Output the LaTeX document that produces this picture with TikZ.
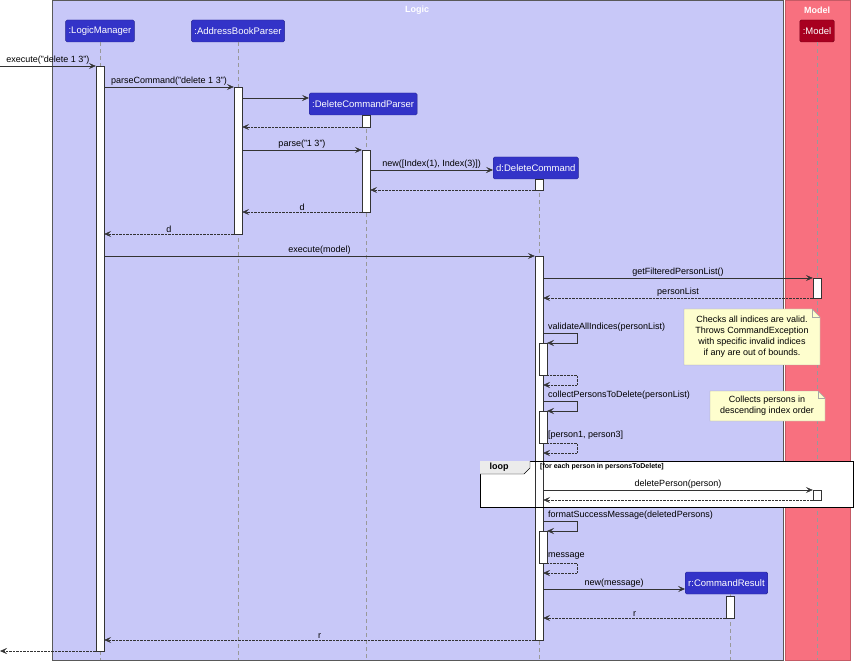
\documentclass[tikz,border=0pt]{standalone}
\usepackage{fontspec}
\setmainfont{Liberation Sans}
\usetikzlibrary{arrows.meta, positioning, calc}
\definecolor{logicbg}{HTML}{C8C8F8}
\definecolor{modelbg}{HTML}{F8707F}
\definecolor{partblue}{HTML}{3333C8}
\definecolor{partred}{HTML}{A80020}
\definecolor{notebg}{HTML}{FEFECE}
\tikzset{
  part/.style={draw=partblue!70!black, fill=partblue, text=white, rounded corners=1.5pt,
    minimum height=22pt, inner xsep=3pt, font=\fontsize{9.5}{11}\selectfont},
  life/.style={draw=gray!80, dashed, dash pattern=on 4pt off 3pt},
  act/.style={draw=black!80, fill=white, minimum width=8pt, inner sep=0pt},
  call/.style={draw=black!80, -{Stealth[length=7pt,width=6pt,inset=3pt]}},
  ret/.style={call, densely dotted},
  lbl/.style={font=\fontsize{9}{11}\selectfont, inner sep=1pt},
}
\newcommand{\selfcall}[3]{% x, y, label
  \draw[call] (#1,#2) -- ++(34,0) -- ++(0,10) -- ++(-30,0);
  \node[lbl, anchor=south west] at (#1+4,#2) {#3};}
\newcommand{\selfret}[3]{%
  \draw[ret] (#1+4,#2) -- ++(30,0) -- ++(0,10) -- ++(-34,0);
  \node[lbl, anchor=south west] at (#1+4,#2-2) {#3};}
\begin{document}
\begin{tikzpicture}[x=1pt, y=-1pt]
\useasboundingbox (0,0) rectangle (857,668);
% boxes
\fill[logicbg] (52,0) rectangle (783,660);
\draw[gray!70!black] (52,0) rectangle (783,660);
\fill[modelbg] (785,0) rectangle (850,660);
\draw[modelbg!80!black] (785,0) rectangle (850,660);
\node[text=white, font=\bfseries\fontsize{9}{11}\selectfont] (logicT) at (417,10) {Logic};
\node[text=white, font=\bfseries\fontsize{9}{11}\selectfont] (modelT) at (817,10) {Model};
% participants
\node[part] (lm) at (100,31) {:LogicManager};
\node[part] (abp) at (238,31) {:AddressBookParser};
\node[part, anchor=west] (dcp) at (309,104) {:DeleteCommandParser};
\node[part, anchor=west] (dc) at (493,168) {d:DeleteCommand};
\node[part, anchor=west] (cr) at (685,583) {r:CommandResult};
\node[part, fill=partred, draw=partred!70!black] (mdl) at (817,31) {:Model};
% lifelines
\draw[life] (lm.south) -- (100,660);
\draw[life] (abp.south) -- (238,660);
\draw[life] (dcp.south -| 366,0) -- (366,660);
\draw[life] (dc.south -| 539,0) -- (539,660);
\draw[life] (cr.south -| 730,0) -- (730,660);
\draw[life] (mdl.south) -- (817,660);
% loop frame
\fill[white] (480,461) rectangle (853,507);
% activations
\node[act, minimum height=585pt] (lmA) at (100,358.5) {};
\node[act, minimum height=147pt] (abpA) at (238,160.5) {};
\node[act, minimum height=12pt] (dcpA1) at (366,121) {};
\node[act, minimum height=62pt] (dcpA2) at (366,181) {};
\node[act, minimum height=11pt] (dcA1) at (539,184.5) {};
\node[act, minimum height=384pt] (dcA2) at (539,448) {};
\node[act, minimum height=20pt] (mdlA1) at (817,288) {};
\node[act, minimum height=10pt] (mdlA2) at (817,495) {};
\node[act, minimum height=32pt] (dcS1) at (543,359) {};
\node[act, minimum height=32pt] (dcS2) at (543,427) {};
\node[act, minimum height=32pt] (dcS3) at (543,547) {};
\node[act, minimum height=22pt] (crA) at (730,607) {};
\coordinate (entry) at (0,66);
\coordinate (exit) at (0,651);
% messages
\draw[call] (entry) -- (lmA.west |- entry) node[lbl, midway, above] {execute("delete 1 3")};
\draw[call] (lmA.east |- 0,87) -- (abpA.west |- 0,87) node[lbl, midway, above] {parseCommand("delete 1 3")};
\draw[call] (abpA.east |- 0,98) -- (dcp.west |- 0,98);
\draw[ret] (dcpA1.west |- 0,127) -- (abpA.east |- 0,127);
\draw[call] (abpA.east |- 0,150) -- (dcpA2.west |- 0,150) node[lbl, midway, above] {parse("1 3")};
\draw[call] (dcpA2.east |- 0,170) -- (dc.west |- 0,170) node[lbl, midway, above] {new([Index(1), Index(3)])};
\draw[ret] (dcA1.west |- 0,190) -- (dcpA2.east |- 0,190);
\draw[ret] (dcpA2.west |- 0,212) -- (abpA.east |- 0,212) node[lbl, midway, above] {d};
\draw[ret] (abpA.west |- 0,234) -- (lmA.east |- 0,234) node[lbl, midway, above] {d};
\draw[call] (lmA.east |- 0,256) -- (dcA2.west |- 0,256) node[lbl, midway, above] {execute(model)};
\draw[call] (dcA2.east |- 0,278) -- (mdlA1.west |- 0,278) node[lbl, midway, above] {getFilteredPersonList()};
\draw[ret] (mdlA1.west |- 0,298) -- (dcA2.east |- 0,298) node[lbl, midway, above] {personList};
\selfcall{543}{333}{validateAllIndices(personList)}
\selfret{543}{375}{}
\selfcall{543}{401}{collectPersonsToDelete(personList)}
\selfret{543}{443}{[person1, person3]}
\draw[call] (dcA2.east |- 0,490) -- (mdlA2.west |- 0,490) node[lbl, midway, above] {deletePerson(person)};
\draw[ret] (mdlA2.west |- 0,500) -- (dcA2.east |- 0,500);
\selfcall{543}{521}{formatSuccessMessage(deletedPersons)}
\selfret{543}{563}{message}
\draw[call] (dcA2.east |- 0,589) -- (cr.west |- 0,589) node[lbl, midway, above] {new(message)};
\draw[ret] (crA.west |- 0,618) -- (dcA2.east |- 0,618) node[lbl, midway, above] {r};
\draw[ret] (dcA2.west |- 0,640) -- (lmA.east |- 0,640) node[lbl, midway, above] {r};
\draw[ret] (lmA.west |- exit) -- (exit);
% loop frame outline
\draw[black] (480,461) rectangle (853,507);
\fill[black!8] (480,461) -- (530,461) -- (530,468) -- (524,474) -- (480,474) -- cycle;
\draw[black] (530,461) -- (530,468) -- (524,474) -- (480,474);
\node[font=\bfseries\fontsize{9}{11}\selectfont, anchor=west] (loopT) at (486,467.5) {loop};
\node[font=\bfseries\fontsize{7}{8}\selectfont, anchor=west, inner sep=0pt] (loopG) at (540,467) {[for each person in personsToDelete]};
% notes
\filldraw[fill=notebg, draw=gray!70] (684,309) -- (812,309) -- (820,317) -- (820,365) -- (684,365) -- cycle;
\draw[gray!70] (812,309) -- (812,317) -- (820,317);
\node[lbl, align=center] (note1) at (752,337) {Checks all indices are valid.\\Throws CommandException\\with specific invalid indices\\if any are out of bounds.};
\filldraw[fill=notebg, draw=gray!70] (710,391) -- (818,391) -- (825,398) -- (825,421) -- (710,421) -- cycle;
\draw[gray!70] (818,391) -- (818,398) -- (825,398);
\node[lbl, align=center] (note2) at (767,406) {Collects persons in\\descending index order};
\end{tikzpicture}
\end{document}
